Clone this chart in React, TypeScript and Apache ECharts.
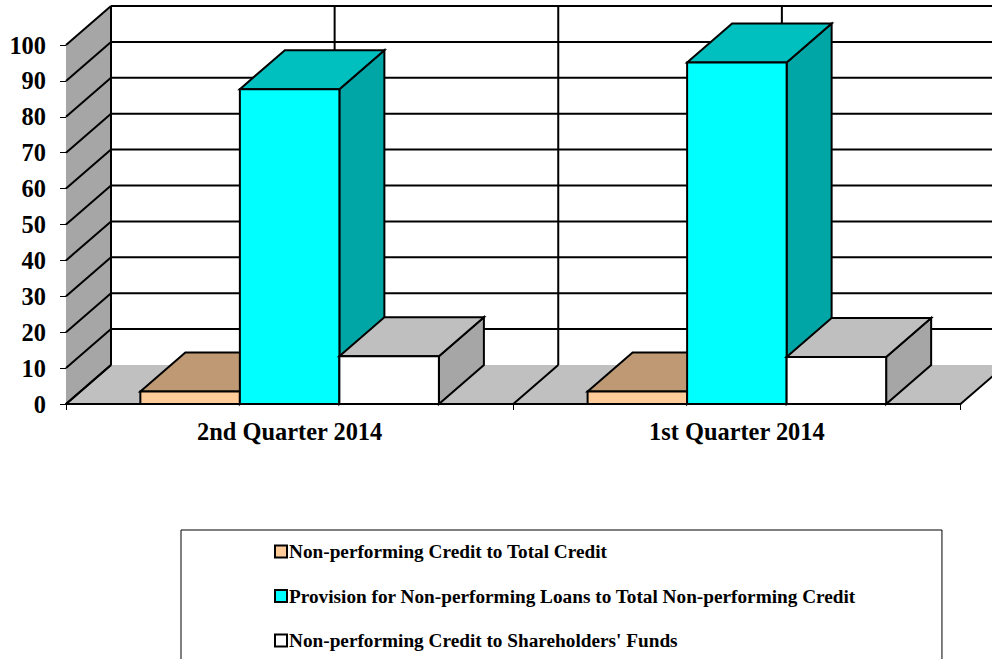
import React, { useEffect, useRef } from "react";
import * as echarts from "echarts";

const categories = ["2nd Quarter 2014", "1st Quarter 2014"];
const yTicks = [0, 10, 20, 30, 40, 50, 60, 70, 80, 90, 100];
const seriesNames = [
  "Non-performing Credit to Total Credit",
  "Provision for Non-performing Loans to Total Non-performing Credit",
  "Non-performing Credit to Shareholders' Funds",
];
const nonPerformingToCredit = [3.5, 3.5];
const provisionToNonPerforming = [87.7, 95.1];
const nonPerformingToFunds = [13.3, 13.1];

const seriesValues = [nonPerformingToCredit, provisionToNonPerforming, nonPerformingToFunds];
const FRONT = ["#FFCC99", "#00FFFF", "#FFFFFF"];
const TOP = ["#BF9973", "#00BFBF", "#BFBFBF"];
const SIDE = ["#A68563", "#00A6A6", "#A6A6A6"];
const DX = 45;
const DY = -39;
const BAR_RATIO = 0.2225;
const FONT = "'Liberation Serif', 'Times New Roman', serif";
const LINE = { stroke: "#000", lineWidth: 2, lineJoin: "miter" as const };

function poly(points: number[][], fill: string, stroke = true, z2 = 0) {
  return {
    type: "polygon",
    z2,
    shape: { points },
    style: stroke ? { fill, ...LINE } : { fill, stroke: "none" },
  };
}
function seg(a: number[], b: number[]) {
  return {
    type: "line",
    shape: { x1: a[0], y1: a[1], x2: b[0], y2: b[1] },
    style: { ...LINE, fill: "none" },
  };
}

function renderWalls(_: any, api: any) {
  const catW = api.size([1, 0])[0];
  const x0 = api.coord([0, 0])[0] - catW / 2;
  const y0 = api.coord([0, 0])[1];
  const yMax = api.coord([0, yTicks[yTicks.length - 1]])[1];
  const x1 = x0 + catW * categories.length;
  const children: any[] = [];
  // floor
  children.push(poly([[x0, y0], [x1, y0], [x1 + DX, y0 + DY], [x0 + DX, y0 + DY]], "#C0C0C0", false));
  // side wall
  children.push(poly([[x0, y0], [x0, yMax], [x0 + DX, yMax + DY], [x0 + DX, y0 + DY]], "#A6A6A6", false));
  // gridlines on the side and back walls
  yTicks.forEach((t) => {
    const y = api.coord([0, t])[1];
    children.push(seg([x0, y], [x0 + DX, y + DY]));
    if (t > 0) children.push(seg([x0 + DX, y + DY], [x1 + DX, y + DY]));
  });
  children.push(seg([x0 + DX, yMax + DY], [x0 + DX, y0 + DY]));
  // verticals on the back wall, floor diagonals
  for (let i = 0; i <= categories.length * 2; i++) {
    const x = x0 + (catW / 2) * i;
    if (i > 0) children.push(seg([x + DX, yMax + DY], [x + DX, y0 + DY]));
    if (i % 2 === 0) children.push(seg([x, y0], [x + DX, y0 + DY]));
  }
  return { type: "group", children };
}

function makeBarRenderer(s: number) {
  return (_: any, api: any) => {
    const c = api.coord([api.value(0), api.value(1)]);
    const base = api.coord([api.value(0), 0]);
    const w = api.size([1, 0])[0] * BAR_RATIO;
    const l = c[0] + (s - 1.5) * w;
    const r = l + w;
    const t = c[1];
    const b = base[1];
    return {
      type: "group",
      children: [
        poly([[r, b], [r, t], [r + DX, t + DY], [r + DX, b + DY]], SIDE[s]),
        poly([[l, t], [r, t], [r + DX, t + DY], [l + DX, t + DY]], TOP[s]),
        poly([[l, b], [r, b], [r, t], [l, t]], FRONT[s]),
      ],
    };
  };
}

export default function App() {
  const ref = useRef<HTMLDivElement>(null);
  useEffect(() => {
    const chart = echarts.init(ref.current!, null, { renderer: "svg" });
    chart.setOption({
      animation: false,
      backgroundColor: "#fff",
      grid: { left: 66, top: 45, width: 894.5, height: 359 },
      xAxis: {
        type: "category",
        data: categories,
        z: 5,
        axisLine: { lineStyle: { color: "#000", width: 2 } },
        axisTick: { show: true, alignWithLabel: false, length: 6, lineStyle: { color: "#000", width: 1 } },
        axisLabel: { color: "#000", fontFamily: FONT, fontWeight: "bold", fontSize: 24.4, margin: 15 },
        splitLine: { show: false },
      },
      yAxis: {
        type: "value",
        min: 0,
        max: 100,
        interval: 10,
        axisLine: { show: true, lineStyle: { color: "#000", width: 1 } },
        axisTick: { show: true, length: 6, lineStyle: { color: "#000", width: 1 } },
        axisLabel: { color: "#000", fontFamily: FONT, fontWeight: "bold", fontSize: 24.4, margin: 20, padding: [2, 0, 0, 0] },
        splitLine: { show: false },
      },
      legend: {
        show: true,
        orient: "vertical",
        left: 181,
        top: 530,
        height: 300,
        align: "left",
        padding: [12, 86, 60, 93],
        itemGap: 25.5,
        itemWidth: 12,
        itemHeight: 12,
        borderColor: "#000",
        borderWidth: 1,
        icon: "rect",
        textStyle: { color: "#000", fontFamily: FONT, fontWeight: "bold", fontSize: 19.25, padding: [0, 0, 0, -3] },
        data: seriesNames.map((name, i) => ({
          name,
          itemStyle: { color: FRONT[i], borderColor: "#000", borderWidth: 2 },
        })),
      },
      series: [
        {
          type: "custom",
          name: "walls",
          renderItem: renderWalls,
          data: [[0, 0]],
          silent: true,
          z: 1,
        },
        ...seriesNames.map((name, s) => ({
          type: "custom",
          name,
          renderItem: makeBarRenderer(s),
          encode: { x: 0, y: 1 },
          itemStyle: { color: FRONT[s] },
          data: seriesValues[s].map((v, i) => [i, v]),
          z: 2 + s,
        })),
      ],
    });
    return () => chart.dispose();
  }, []);
  return <div ref={ref} style={{ position: "fixed", left: 0, top: 0, width: 992, height: 659 }} />;
}
